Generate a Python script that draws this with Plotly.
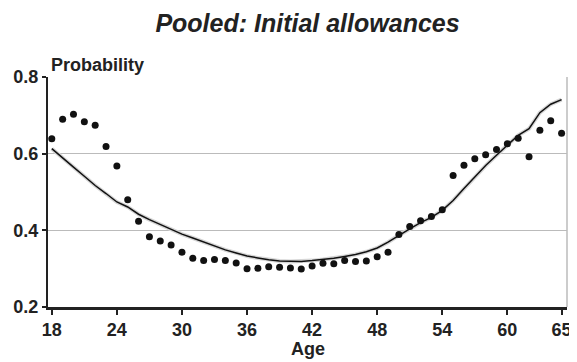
import plotly.graph_objects as go

ages = list(range(18, 66))
observed = [0.639, 0.690, 0.703, 0.683, 0.674, 0.619, 0.568, 0.480, 0.424, 0.383,
            0.372, 0.362, 0.343, 0.327, 0.321, 0.324, 0.321, 0.315, 0.300, 0.301,
            0.305, 0.304, 0.302, 0.299, 0.307, 0.314, 0.313, 0.321, 0.319, 0.320,
            0.331, 0.343, 0.389, 0.410, 0.425, 0.436, 0.454, 0.543, 0.570, 0.587,
            0.597, 0.611, 0.626, 0.640, 0.592, 0.661, 0.686, 0.653]
predicted = [0.613, 0.590, 0.565, 0.541, 0.517, 0.496, 0.474, 0.461, 0.442, 0.428,
             0.415, 0.402, 0.390, 0.380, 0.369, 0.359, 0.349, 0.341, 0.333, 0.328,
             0.323, 0.320, 0.319, 0.319, 0.321, 0.324, 0.327, 0.332, 0.337, 0.344,
             0.354, 0.369, 0.387, 0.404, 0.420, 0.434, 0.452, 0.478, 0.509, 0.539,
             0.569, 0.596, 0.623, 0.648, 0.665, 0.707, 0.729, 0.741]
x_ticks = [18, 24, 30, 36, 42, 48, 54, 60, 65]
y_ticks = [0.2, 0.4, 0.6, 0.8]
y_ticklabels = ["0.2", "0.4", "0.6", "0.8"]

FONT = "Liberation Sans, Arial, sans-serif"
W, H = 569, 354  # page body has an 8px margin

fig = go.Figure()
# light grey halo under the predicted line
fig.add_trace(go.Scatter(x=ages, y=predicted, mode="lines",
                         line=dict(color="#d6d6d6", width=4), hoverinfo="skip",
                         showlegend=False))
fig.add_trace(go.Scatter(x=ages, y=predicted, mode="lines",
                         line=dict(color="#111111", width=1.5), showlegend=False))
fig.add_trace(go.Scatter(x=ages, y=observed, mode="markers",
                         marker=dict(color="#111111", size=7), showlegend=False))

fig.update_layout(
    width=W, height=H,
    margin=dict(l=37, r=5, t=69, b=55),
    paper_bgcolor="white", plot_bgcolor="white",
    font=dict(family=FONT, size=18, color="#222222"),
    title=dict(text="<b><i>Pooled: Initial allowances</i></b>",
               xref="paper", x=0.5, xanchor="center",
               y=1 - 15 / H, yanchor="middle",
               font=dict(size=25, color="#222222", family=FONT)),
    xaxis=dict(range=[17.65, 65.5], tickvals=x_ticks,
               ticktext=[f"<b>{t}</b>" for t in x_ticks],
               showgrid=False, zeroline=False,
               showline=True, linecolor="#222222", linewidth=2.5,
               ticks="outside", ticklen=5, tickwidth=1.5, tickcolor="#222222"),
    yaxis=dict(range=[0.2, 0.8], tickvals=y_ticks,
               ticktext=[f"<b>{t}</b>" for t in y_ticklabels],
               showgrid=True, gridcolor="#bbbbbb", gridwidth=1, zeroline=False,
               showline=True, linecolor="#222222", linewidth=2,
               ticks="outside", ticklen=4, tickwidth=1.5, tickcolor="#222222"),
    shapes=[dict(type="line", xref="paper", yref="paper", x0=1, x1=1, y0=0, y1=1,
                 line=dict(color="#bbbbbb", width=1.5))],
    annotations=[
        dict(text="<b>Probability</b>", xref="paper", yref="paper",
             x=0, y=1, xanchor="left", yanchor="bottom", xshift=1, yshift=0,
             showarrow=False, font=dict(size=18, color="#222222")),
        dict(text="<b>Age</b>", xref="paper", yref="paper",
             x=0.5, y=0, xanchor="center", yanchor="top", yshift=-30,
             showarrow=False, font=dict(size=18, color="#222222")),
    ],
)

fig.write_html("out.html")
